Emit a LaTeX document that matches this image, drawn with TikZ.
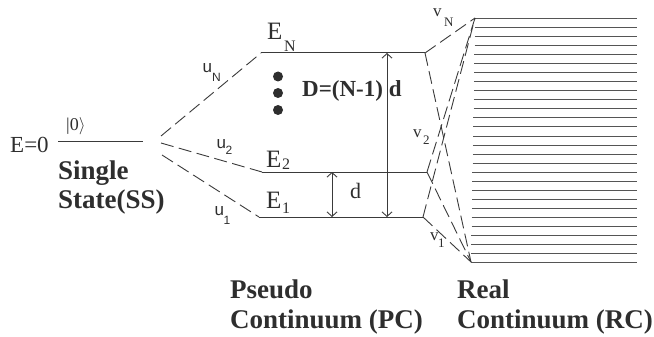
\documentclass[tikz,border=0pt]{standalone}
\usepackage{fontspec}
\setmainfont{Liberation Serif}
\newfontfamily\sfu{Liberation Sans}
\usetikzlibrary{arrows.meta}
\definecolor{txt}{HTML}{2E2E2E}
\definecolor{ln}{HTML}{3A3A3A}
\definecolor{rcl}{HTML}{555555}
\newcommand{\fsz}[1]{\fontsize{#1}{#1}\selectfont}
\tikzset{
  lvl/.style={draw=ln, line width=1pt},
  dsh/.style={draw=ln, line width=0.9pt, dash pattern=on 13pt off 5.5pt},
  lab/.style={inner sep=0pt, anchor=base west, text=txt},
  big/.style={lab, font=\fsz{27}\bfseries},
  elab/.style={lab, font=\fsz{25}},
  esub/.style={lab, font=\fsz{16}},
  ulab/.style={lab, font=\sfu\fsz{17}},
  usub/.style={lab, font=\sfu\fsz{12}},
  vlab/.style={lab, font=\fsz{17}},
  vsub/.style={lab, font=\fsz{13}},
  dbl/.style={draw=ln, line width=0.9pt, {Straight Barb[length=4.5pt,width=10pt]}-{Straight Barb[length=4.5pt,width=10pt]}},
  dot/.style={circle, fill=txt, inner sep=0pt, minimum size=10pt}
}
\begin{document}
\begin{tikzpicture}[x=1pt,y=-1pt]
\useasboundingbox (0,0) rectangle (654,337);
% single state
\coordinate (ssL) at (58,141);
\coordinate (ssR) at (143,141);
\draw[lvl] (ssL) -- (ssR);
\node[lab, font=\fsz{23}] (e0) at (10,152) {E=0};
\node[lab, font=\fsz{18}] (ket) at (66,131) {|0$\rangle$};
\node[big] (single) at (58,179) {Single};
\node[big] (state) at (58,208) {State(SS)};
% pseudo continuum levels
\coordinate (eNL) at (261,53);  \coordinate (eNR) at (425,53);
\coordinate (e2L) at (262,172); \coordinate (e2R) at (427,172);
\coordinate (e1L) at (259,217); \coordinate (e1R) at (423,217);
\draw[lvl] (eNL) -- (eNR);
\draw[lvl] (e2L) -- (e2R);
\draw[lvl] (e1L) -- (e1R);
\node[elab] (EN) at (267,40) {E};
\node[esub] (ENs) at (284,52) {N};
\node[elab] (E2) at (266,167) {E};
\node[esub] (E2s) at (282,169.5) {2};
\node[elab] (E1) at (266,208) {E};
\node[esub] (E1s) at (282,213) {1};
% dots
\node[dot] (d1) at (278,76.5) {};
\node[dot] (d2) at (278,93) {};
\node[dot] (d3) at (278,110) {};
% arrows
\coordinate (bigT) at (387,53);  \coordinate (bigB) at (387,217);
\coordinate (smT) at (332,172);  \coordinate (smB) at (332,217);
\draw[dbl] (bigT) -- (bigB);
\draw[dbl] (smT) -- (smB);
\node[lab, font=\fsz{23}\bfseries] (D) at (302,96) {D=(N-1) d};
\node[lab, font=\fsz{22}] (dl) at (350,198) {d};
% couplings u
\coordinate (sa) at (161,136);
\coordinate (sb) at (161,143);
\coordinate (sc) at (162,155);
\draw[dsh] (sa) -- (eNL);
\draw[dsh] (sb) -- (e2L);
\draw[dsh] (sc) -- (e1L);
\node[ulab] (uN) at (202.5,73) {u};
\node[usub] (uNs) at (212,82) {N};
\node[ulab] (u2) at (216.5,148) {u};
\node[usub] (u2s) at (225.5,154) {2};
\node[ulab] (u1) at (214.5,215) {u};
\node[usub] (u1s) at (223.5,224) {1};
% real continuum
\foreach \i in {0,...,27}{
  \pgfmathsetmacro{\yy}{19+9*\i}
  \pgfmathsetmacro{\xl}{475-4*\i/27}
  \draw[draw=rcl, line width=1pt] (\xl,\yy) -- (637,\yy);
}
\coordinate (rcT) at (475,18);
\coordinate (rcB) at (471,262);
% couplings v
\draw[dsh] (eNR) -- (rcT);
\draw[dsh] (eNR) -- (rcB);
\draw[dsh] (e2R) -- (rcT);
\draw[dsh] (e2R) -- (rcB);
\draw[dsh] (e1R) -- (rcT);
\draw[dsh] (e1R) -- (rcB);
\node[vlab] (vN) at (433,17) {v};
\node[vsub] (vNs) at (444,27) {N};
\node[vlab] (v2) at (413,138) {v};
\node[vsub] (v2s) at (423,145) {2};
\node[vlab] (v1) at (430,240) {v};
\node[vsub] (v1s) at (438,247) {1};
% bottom labels
\node[big] (pseudo) at (230,298) {Pseudo};
\node[big] (pc) at (230,328) {Continuum (PC)};
\node[big] (real) at (457,298) {Real};
\node[big] (rc) at (457,328) {Continuum (RC)};
\end{tikzpicture}
\end{document}
